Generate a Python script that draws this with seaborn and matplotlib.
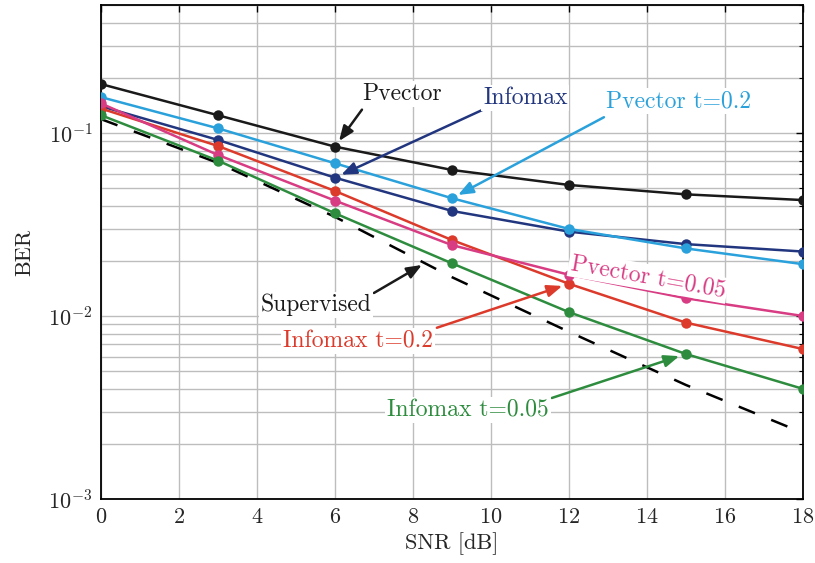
import matplotlib
matplotlib.use("Agg")
import matplotlib.pyplot as plt
from matplotlib.ticker import LogLocator, NullFormatter, MultipleLocator
import pandas as pd
import seaborn as sns

# BER curves
snr = [0, 3, 6, 9, 12, 15, 18]
pvector = [0.185, 0.125, 0.0842, 0.0628, 0.0520, 0.0462, 0.0430]
infomax = [0.140, 0.0916, 0.0570, 0.0375, 0.0289, 0.0247, 0.0225]
pvector_t02 = [0.157, 0.106, 0.0683, 0.0440, 0.0299, 0.0234, 0.0192]
infomax_t02 = [0.136, 0.0849, 0.0482, 0.0260, 0.0150, 0.0092, 0.0066]
pvector_t005 = [0.145, 0.0758, 0.0427, 0.0244, 0.0168, 0.0125, 0.0100]
infomax_t005 = [0.125, 0.0706, 0.0364, 0.0194, 0.0105, 0.0062, 0.0040]
supervised = [0.119, 0.0686, 0.0348, 0.0163, 0.0082, 0.0042, 0.0023]

names = ["Pvector", "Infomax", "Pvector t=0.2", "Infomax t=0.2",
         "Pvector t=0.05", "Infomax t=0.05"]
colors = ["#1a1a1a", "#22367f", "#2aa1db", "#dc3a2b", "#d83c83", "#2e8c3e"]

sns.set_theme(style="whitegrid")
plt.rcParams["font.family"] = ["cmr10", "DejaVu Serif"]
plt.rcParams["mathtext.fontset"] = "cm"
plt.rcParams["axes.formatter.use_mathtext"] = True
plt.rcParams["axes.unicode_minus"] = False

rows = []
for name, vals in zip(names, [pvector, infomax, pvector_t02, infomax_t02,
                              pvector_t005, infomax_t005]):
    for s, v in zip(snr, vals):
        rows.append({"snr": s, "ber": v, "method": name})
df = pd.DataFrame(rows)
sup = pd.DataFrame({"snr": snr, "ber": supervised})

fig = plt.figure(figsize=(8.15, 5.63), dpi=100)
ax = fig.add_axes([0.124, 0.1137, 0.861, 0.8773])
ax.set_facecolor("white")

sns.lineplot(data=sup, x="snr", y="ber", color="black", lw=1.8,
             dashes=False, ax=ax, linestyle=(0, (7, 7)), zorder=2)
sns.lineplot(data=df, x="snr", y="ber", hue="method", hue_order=names,
             palette=colors, marker="o", markersize=7.5, markeredgewidth=0,
             lw=1.8, ax=ax, legend=False, zorder=3)

ax.set_yscale("log")
ax.set_xlim(0, 18)
ax.set_ylim(1e-3, 0.5)
ax.xaxis.set_major_locator(MultipleLocator(2))
ax.yaxis.set_major_locator(LogLocator(base=10, numticks=10))
ax.yaxis.set_minor_locator(LogLocator(base=10, subs=range(2, 10), numticks=20))
ax.yaxis.set_minor_formatter(NullFormatter())

ax.grid(True, which="major", color="#bdbdbd", lw=1.0)
ax.grid(True, which="minor", axis="y", color="#bdbdbd", lw=1.0)
for sp in ax.spines.values():
    sp.set_color("black")
    sp.set_linewidth(1.3)
ax.tick_params(axis="both", which="both", direction="in", top=True, right=True,
               color="black", labelsize=16, pad=6)
ax.tick_params(which="major", length=5, width=1)
ax.tick_params(which="minor", length=3, width=0.8)

ax.set_xlabel("SNR [dB]", fontsize=16, labelpad=4)
ax.set_ylabel("BER", fontsize=16, labelpad=10)

box = dict(boxstyle="square,pad=0.08", fc="white", ec="none")


def arrow(xy, offset, color):
    ax.annotate("", xy=xy, xytext=offset, textcoords="offset pixels",
                arrowprops=dict(arrowstyle="-|>,head_length=0.75,head_width=0.3",
                                color=color, lw=1.8, shrinkA=0, shrinkB=5),
                zorder=5)


ax.text(7.72, 0.163, "Pvector", color=colors[0], fontsize=17, ha="center", va="center", bbox=box, zorder=6)
ax.text(10.88, 0.155, "Infomax", color=colors[1], fontsize=17, ha="center", va="center", bbox=box, zorder=6)
ax.text(14.82, 0.1496, "Pvector t=0.2", color=colors[2], fontsize=17, ha="center", va="center", bbox=box, zorder=6)
ax.text(14.03, 0.0163, "Pvector t=0.05", color=colors[4], fontsize=17, ha="center", va="center",
        rotation=-10, rotation_mode="anchor", bbox=box, zorder=6)
ax.text(5.51, 0.0115, "Supervised", color="#1a1a1a", fontsize=17, ha="center", va="center", bbox=box, zorder=6)
ax.text(6.59, 0.0073, "Infomax t=0.2", color=colors[3], fontsize=17, ha="center", va="center", bbox=box, zorder=6)
ax.text(9.41, 0.00306, "Infomax t=0.05", color=colors[5], fontsize=17, ha="center", va="center", bbox=box, zorder=6)

arrow((snr[2], pvector[2]), (27, 37), colors[0])
arrow((snr[2], infomax[2]), (148, 68), colors[1])
arrow((snr[3], pvector_t02[3]), (152, 81), colors[2])
arrow((snr[4], infomax_t02[4]), (-132, -44), colors[3])
arrow((snr[5], infomax_t005[5]), (-134, -44), colors[5])
ax.annotate("", xy=(8.23, 0.019), xytext=(7.0, 0.01336),
            arrowprops=dict(arrowstyle="-|>,head_length=0.75,head_width=0.3",
                            color="#1a1a1a", lw=1.8, shrinkA=0, shrinkB=0),
            zorder=5)

fig.savefig("out.png", dpi=100)
